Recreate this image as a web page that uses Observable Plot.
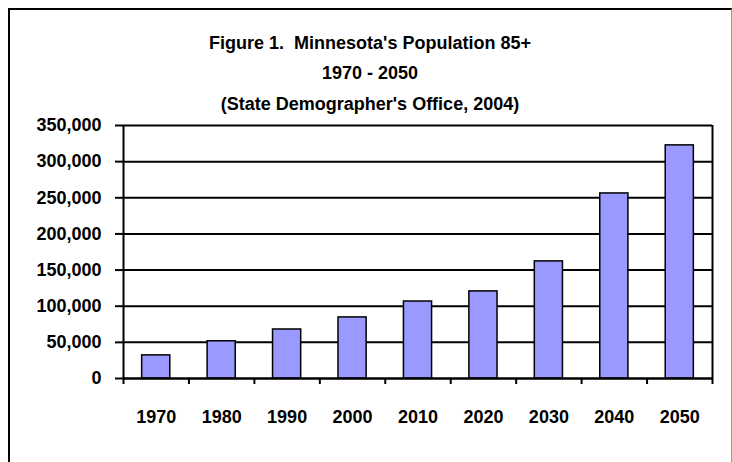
<!DOCTYPE html>
<html>
<head>
<meta charset="utf-8">
<script src="https://cdn.jsdelivr.net/npm/d3@7"></script>
<script src="https://cdn.jsdelivr.net/npm/@observablehq/plot@0.6"></script>
<style>
  html, body { margin: 0; padding: 0; background: #fff; }
  #wrap { position: relative; width: 732px; height: 462px; overflow: hidden; }
  #border { position: absolute; left: 8px; top: 8px; width: 721px; height: 480px;
            border-left: 2px solid #000; border-top: 2px solid #000; border-right: 1px solid #999; }
  #titles { position: absolute; left: 0; top: 0; }
  #chart { position: absolute; left: 0; top: 0; }
  .f { font-family: "Liberation Sans", Arial, sans-serif; font-weight: bold; }
  #titles text { white-space: pre; }
</style>
</head>
<body>
<div id="wrap">
  <div id="border"></div>
  <div id="chart"></div>
  <svg id="titles" width="732" height="130" class="f" font-size="18">
    <text x="370" y="49" text-anchor="middle" xml:space="preserve">Figure 1.  Minnesota's Population 85+</text>
    <text x="370" y="79" text-anchor="middle">1970 - 2050</text>
    <text x="370" y="110" text-anchor="middle">(State Demographer's Office, 2004)</text>
  </svg>
</div>
<script>
const years = [1970, 1980, 1990, 2000, 2010, 2020, 2030, 2040, 2050];
const population = [32000, 51500, 67800, 84500, 106500, 120500, 162000, 256000, 322500];
const yTicks = [0, 50000, 100000, 150000, 200000, 250000, 300000, 350000];

const data = years.map((year, i) => ({year, value: population[i]}));
const half = 10 / 2;
const boundaries = years.map(y => y - half).concat([years[years.length - 1] + half]);
const barHalf = 2.15;

const fontStyle = {fontFamily: '"Liberation Sans", Arial, sans-serif', fontWeight: "bold", fontSize: "18px"};

const chart = Plot.plot({
  width: 732,
  height: 462,
  marginLeft: 123,
  marginRight: 20,
  marginTop: 125,
  marginBottom: 84,
  style: {background: "transparent", color: "#000", ...fontStyle},
  x: {type: "linear", domain: [boundaries[0], boundaries[boundaries.length - 1]], axis: null},
  y: {domain: [0, 350000], axis: null},
  marks: [
    Plot.ruleY(yTicks, {stroke: "#000", strokeWidth: 2}),
    Plot.rectY(data, {x1: d => d.year - barHalf, x2: d => d.year + barHalf, y1: 0, y2: "value",
      fill: "#9999ff", stroke: "#000", strokeWidth: 1.5}),
    Plot.ruleX([boundaries[0]], {stroke: "#000", strokeWidth: 2}),
    Plot.ruleX([boundaries[boundaries.length - 1]], {stroke: "#000", strokeWidth: 2}),
    Plot.ruleY([0], {stroke: "#000", strokeWidth: 2}),
    Plot.axisY({ticks: yTicks, tickSize: 8, tickPadding: 14, tickFormat: d3.format(","), label: null,
      stroke: "#000", strokeWidth: 2, ...fontStyle}),
    Plot.axisX({ticks: boundaries, tickSize: 6, tickFormat: () => "", label: null, stroke: "#000", strokeWidth: 2}),
    Plot.axisX({ticks: years, tickSize: 0, tickPadding: 32, tickFormat: d => String(d), label: null, ...fontStyle})
  ]
});
document.getElementById("chart").appendChild(chart);
</script>
</body>
</html>
